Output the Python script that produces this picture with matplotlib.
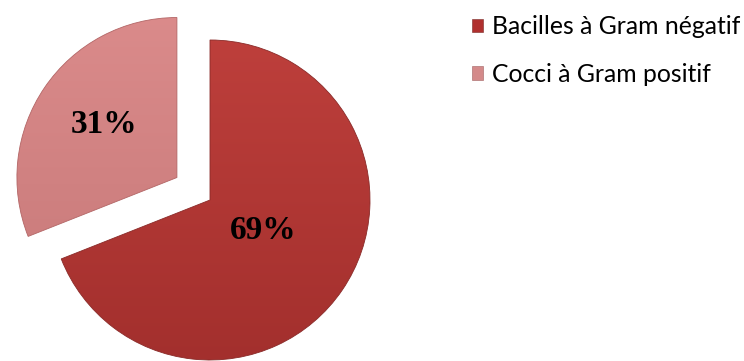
import matplotlib.pyplot as plt
import numpy as np
from matplotlib.colors import LinearSegmentedColormap

# Pie data
categories = ['Bacilles à Gram négatif', 'Cocci à Gram positif']
shares = [69, 31]
pct_labels = ['69%', '31%']
explode = [0, 0.25]

# top / bottom shades for each wedge
base_colors = ['#B93A37', '#D48383']
grad_colors = [('#C4433F', '#9F2D2B'), ('#DE8E8E', '#C27474')]

fig = plt.figure(figsize=(7.44, 3.61), dpi=100)
ax = fig.add_axes([0, 0, 1, 1])

wedges, texts = ax.pie(shares, explode=explode, startangle=90, counterclock=False,
                       colors=base_colors, radius=1,
                       wedgeprops=dict(edgecolor='#8A2A28', linewidth=0.6))
wedges[1].set_edgecolor('#B36666')

# vertical gradient inside each wedge
for w, (top, bot) in zip(wedges, grad_colors):
    cmap = LinearSegmentedColormap.from_list('g', [bot, top])
    grad = np.linspace(0, 1, 256).reshape(-1, 1)
    im = ax.imshow(grad, cmap=cmap, origin='lower', aspect='auto',
                   extent=(-1.5, 1.5, -1.3, 1.5), zorder=w.get_zorder() + 0.1)
    im.set_clip_path(w)
    w.set_zorder(w.get_zorder() + 0.2)
    w.set_facecolor('none')

# percentage labels
label_pos = [(0.33, -0.19), (-0.66, 0.47)]
for txt, (x, y) in zip(pct_labels, label_pos):
    ax.text(x, y, txt, ha='center', va='center', fontsize=24, fontweight='bold',
            family='Liberation Serif', color='black', zorder=5)

# 1 unit = 160 px, centre at (210, 200) px from the top-left corner
ax.set_xlim(-210 / 160, (744 - 210) / 160)
ax.set_ylim(-161 / 160, 200 / 160)
ax.set_aspect('auto')
ax.axis('off')

# legend
handles = [plt.Rectangle((0, 0), 1, 1, facecolor=c, edgecolor='#7a2a28', linewidth=0.4)
           for c in ['#B0302E', '#D48A8A']]
handles[1].set_edgecolor('#a06060')
leg = fig.legend(handles, categories, loc='upper left', bbox_to_anchor=(472 / 744, 1 - 15 / 361),
                 frameon=False, prop={'family': 'Lato', 'size': 17.8},
                 handlelength=0.45, handleheight=0.45, handletextpad=0.35,
                 labelspacing=1.0, borderaxespad=0, borderpad=0)

plt.savefig('out.png', dpi=100)
